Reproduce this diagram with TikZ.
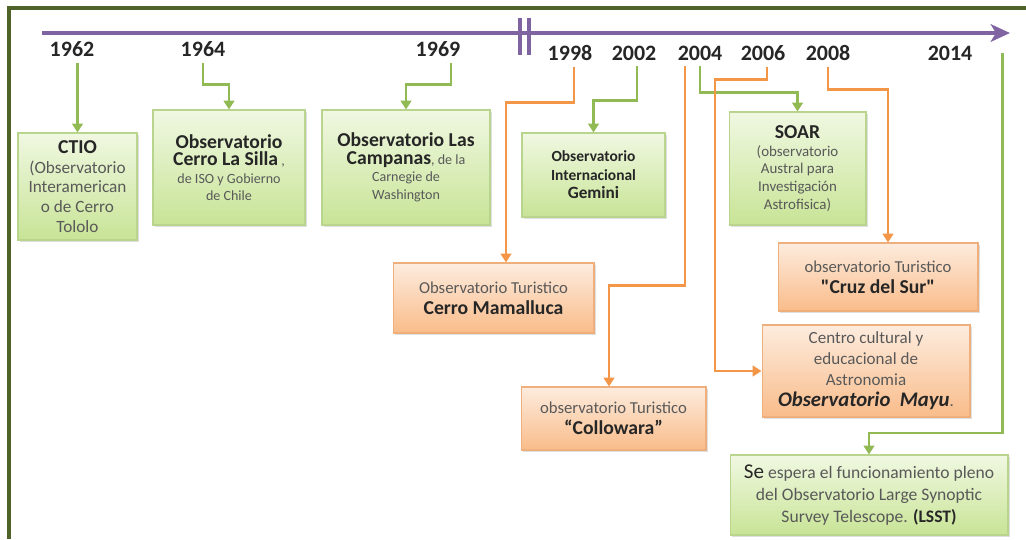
\documentclass[tikz,border=0pt]{standalone}
\usepackage{fontspec}
\setmainfont{Carlito}
\newfontfamily\plainquote{Carlito}
\usetikzlibrary{arrows.meta, positioning, calc, shadows}
\definecolor{framegreen}{RGB}{79,98,40}
\definecolor{axispurple}{RGB}{128,100,162}
\definecolor{linegreen}{RGB}{146,186,84}
\definecolor{lineorange}{RGB}{244,150,72}
\definecolor{greentop}{RGB}{240,248,226}
\definecolor{greenbottom}{RGB}{200,228,150}
\definecolor{greenborder}{RGB}{185,212,140}
\definecolor{orangetop}{RGB}{253,236,222}
\definecolor{orangebottom}{RGB}{249,188,138}
\definecolor{orangeborder}{RGB}{238,175,125}
\definecolor{bodytext}{RGB}{89,89,89}
\definecolor{titletext}{RGB}{38,38,38}
\newcommand{\tbold}[1]{{\fontsize{11.2}{12.5}\selectfont\bfseries\color{titletext}#1}}
\tikzset{
    eventbox/.style={
        rectangle, line width=0.6pt, align=center, text=bodytext,
        inner sep=2pt, drop shadow={opacity=0.25, shadow xshift=1pt, shadow yshift=-1pt}
    },
    greenbox/.style={
        eventbox, draw=greenborder, top color=greentop, bottom color=greenbottom,
        font=\fontsize{8}{10}\selectfont
    },
    orangebox/.style={
        eventbox, draw=orangeborder, top color=orangetop, bottom color=orangebottom,
        font=\fontsize{9.5}{12}\selectfont
    },
    yearlabel/.style={font=\fontsize{12.5}{14}\selectfont\bfseries, text=titletext},
    axisline/.style={draw=axispurple, line width=2.4pt, -{Stealth[length=11pt, width=10pt, inset=3pt]}},
    breakmark/.style={draw=axispurple, line width=1.8pt},
    greenlink/.style={draw=linegreen, line width=1.6pt, -{Triangle[width=6pt, length=5pt]}},
    orangelink/.style={draw=lineorange, line width=1.6pt, -{Triangle[width=6pt, length=5pt]}}
}
\begin{document}
\begin{tikzpicture}[x=0.02cm, y=-0.02cm]
\useasboundingbox (0,0) rectangle (1026,539);

% Frame
\draw[framegreen, line width=1.8pt] (9,539) -- (9,8) -- (1026,8);

% Time axis
\coordinate (axstart) at (42,33);
\coordinate (axend) at (1010,33);
\draw[axisline] (axstart) -- (axend);
\draw[breakmark] (520,18) -- (520,55);
\draw[breakmark] (529,18) -- (529,55);

% Years
\node[yearlabel] (y1962) at (72,49) {1962};
\node[yearlabel] (y1964) at (203,49) {1964};
\node[yearlabel] (y1969) at (438,49) {1969};
\node[yearlabel] (y1998) at (570,53) {1998};
\node[yearlabel] (y2002) at (634,53) {2002};
\node[yearlabel] (y2004) at (700,53) {2004};
\node[yearlabel] (y2006) at (763,53) {2006};
\node[yearlabel] (y2008) at (828,53) {2008};
\node[yearlabel] (y2014) at (950,53) {2014};

% Observatories
\node[greenbox, minimum width=2.38cm, minimum height=2.14cm, font=\fontsize{9.8}{11.2}\selectfont] (ctio) at (77.5,186.5)
    {\tbold{CTIO}\\(Observatorio\\Interamerican\\o de Cerro\\Tololo};
\node[greenbox, minimum width=3.04cm, minimum height=2.3cm] (lasilla) at (229,167.5)
    {\tbold{Observatorio}\\\tbold{Cerro La Silla} ,\\de ISO y Gobierno\\de Chile};
\node[greenbox, minimum width=3.36cm, minimum height=2.3cm] (campanas) at (406,167.5)
    {\tbold{Observatorio Las}\\\tbold{Campanas}, de la\\Carnegie de\\Washington};
\node[greenbox, minimum width=2.86cm, minimum height=1.68cm, font=\fontsize{8.8}{10.5}\selectfont\bfseries, text=titletext] (gemini) at (593.5,175)
    {Observatorio\\Internacional\\{\fontsize{9.8}{11}\selectfont Gemini}};
\node[greenbox, minimum width=2.74cm, minimum height=2.26cm, font=\fontsize{8.5}{10}\selectfont] (soar) at (797.5,168.5)
    {\tbold{SOAR}\\(observatorio\\Austral para\\Investigación\\Astrofisica)};
\node[greenbox, minimum width=5.56cm, minimum height=1.6cm, font=\fontsize{10}{12.5}\selectfont] (lsst) at (869,495)
    {{\fontsize{12}{12}\selectfont\color{titletext}Se} espera el funcionamiento pleno\\del Observatorio Large Synoptic\\Survey Telescope. \textbf{\color{titletext}(LSST)}};

% Tourist observatories
\node[orangebox, minimum width=4.02cm, minimum height=1.4cm] (mamalluca) at (493.5,298)
    {Observatorio Turistico\\\tbold{Cerro Mamalluca}};
\node[orangebox, minimum width=3.7cm, minimum height=1.26cm] (collowara) at (613.5,418.5)
    {observatorio Turistico\\\tbold{“Collowara”}};
\node[orangebox, minimum width=4cm, minimum height=1.36cm] (cruz) at (878,277)
    {observatorio Turistico\\\tbold{\plainquote "Cruz del Sur"}};
\node[orangebox, minimum width=4.16cm, minimum height=1.84cm, font=\fontsize{9.7}{12}\selectfont] (mayu) at (866,371)
    {Centro cultural y\\educacional de\\Astronomia\\{\fontsize{11.8}{12.5}\selectfont\bfseries\itshape\color{titletext}Observatorio\ \ Mayu}.};

% Connections
\draw[greenlink] (y1962.south -| ctio.north) -- (ctio.north);
\draw[greenlink] (y1964.south) -- ++(0,22) -| (lasilla.north);
\draw[greenlink] ([xshift=0.26cm]y1969.south) -- ++(0,22) -| (campanas.north);
\draw[orangelink] ([xshift=0.08cm]y1998.south) -- ++(0,36) -| ([xshift=0.25cm]mamalluca.north);
\draw[greenlink] ([xshift=0.06cm]y2002.south) -- ++(0,34) -| (gemini.north);
\draw[orangelink] ([xshift=-0.3cm]y2004.south) -- ++(0,219) -| ([xshift=-0.09cm]collowara.north);
\draw[greenlink] (y2004.south) -- ++(0,26) -| (soar.north);
\draw[orangelink] ([xshift=0.08cm]y2006.south) -- ++(0,13) -- ++(-52,0) |- (mayu.west);
\draw[orangelink] (y2008.south) -- ++(0,23) -| ([xshift=0.2cm]cruz.north);
\draw[greenlink] ($(y2014.east)+(24,0)$) -- ++(0,380) -| (lsst.north);

\end{tikzpicture}
\end{document}
